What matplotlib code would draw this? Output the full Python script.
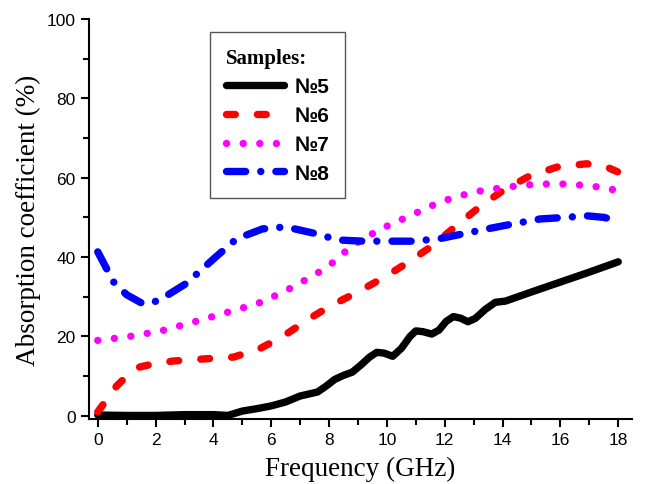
import matplotlib.pyplot as plt
from matplotlib.ticker import MultipleLocator

# --- data ---
freq5 = [0, 1, 2, 3, 4, 4.5, 5, 5.5, 6, 6.5, 7, 7.6, 7.9, 8.2, 8.5, 8.8, 9.1, 9.4,
         9.65, 9.9, 10.2, 10.5, 10.8, 11.0, 11.25, 11.55, 11.8, 12.05, 12.3, 12.55,
         12.8, 13.05, 13.4, 13.75, 14.1, 15, 16, 17, 18]
abs5 = [0.2, 0.1, 0.1, 0.3, 0.3, 0.1, 1.2, 1.8, 2.5, 3.5, 5.0, 6.0, 7.5, 9.2, 10.2,
        11.0, 12.8, 14.8, 16.0, 15.8, 15.0, 17.0, 20.0, 21.4, 21.2, 20.6, 21.6, 23.8,
        25.0, 24.6, 23.7, 24.5, 26.8, 28.6, 28.9, 31.2, 33.7, 36.2, 38.8]

freq6 = [0, 0.3, 0.65, 1.0, 1.45, 2.0, 2.6, 3.2, 3.8, 4.7, 5.6, 6.4, 7.3, 8.0, 9.07,
         10.0, 10.8, 11.6, 12.4, 13.2, 14.0, 14.95, 15.9, 16.9, 17.5, 18]
abs6 = [1.0, 4.0, 7.5, 10.0, 12.3, 13.2, 13.8, 14.1, 14.4, 14.8, 16.9, 20, 24.4, 27.5,
        31.5, 35.3, 39, 43, 47.9, 52.6, 56.7, 60.5, 62.7, 63.5, 63.0, 61.4]

freq7 = [0, 1.1, 2.25, 3.3, 4.3, 5.5, 6.4, 7.45, 8.0, 8.8, 9.76, 10.8, 11.84, 13.0,
         14.1, 15.2, 16.3, 17.4, 18]
abs7 = [19, 20, 21.5, 23.6, 25.7, 28.2, 31.1, 35.3, 37.8, 42.9, 47, 50.4, 53.9, 56.4,
        57.6, 58.4, 58.4, 57.6, 56.7]

freq8 = [0, 0.55, 1.0, 1.57, 2.1, 3.05, 4.0, 4.8, 5.7, 6.5, 7.6, 8.3, 9.2, 10.0, 10.9,
         11.8, 12.6, 13.4, 14.4, 15.3, 16.2, 16.9, 17.5, 18]
abs8 = [41.3, 33.7, 30.5, 28.2, 29, 33.3, 39.5, 44.6, 47.1, 47.6, 45.8, 44.3, 44, 44, 44,
        44.6, 45.8, 47, 48.4, 49.6, 50, 50.4, 50, 49.1]

labels = ["№5", "№6", "№7", "№8"]

fig = plt.figure(figsize=(6.53, 4.85), dpi=100)
ax = fig.add_axes([0.136, 0.134, 0.832, 0.825])

lw = 5.3
ax.plot(freq5, abs5, color="black", lw=lw, solid_capstyle="round",
        solid_joinstyle="round", label=labels[0])
ax.plot(freq6, abs6, color="#ff0000", lw=lw, linestyle=(0, (1.2, 3.0)),
        dash_capstyle="round", label=labels[1])
ax.plot(freq7, abs7, color="#ff00ff", lw=lw, linestyle=(0, (0.01, 2.25)),
        dash_capstyle="round", label=labels[2])
ax.plot(freq8, abs8, color="#0000ff", lw=lw, linestyle=(0, (2.6, 2.05, 0.01, 2.05)),
        dash_capstyle="round", label=labels[3])

ax.set_xlim(-0.31, 18.48)
ax.set_ylim(-0.8, 100)
ax.xaxis.set_major_locator(MultipleLocator(2))
ax.xaxis.set_minor_locator(MultipleLocator(1))
ax.yaxis.set_major_locator(MultipleLocator(20))
ax.yaxis.set_minor_locator(MultipleLocator(10))
ax.spines["top"].set_visible(False)
ax.spines["right"].set_visible(False)
for s in ("left", "bottom"):
    ax.spines[s].set_linewidth(1.5)
ax.tick_params(which="major", direction="out", length=6, width=1.5,
               labelsize=12.5, colors="black")
ax.tick_params(which="minor", direction="out", length=4, width=1.5)
for t in ax.get_xticklabels() + ax.get_yticklabels():
    t.set_family("Liberation Sans")

ax.set_xlabel("Frequency (GHz)", family="Liberation Serif", fontsize=19.5, labelpad=6)
ax.set_ylabel("Absorption coefficient (%)", family="Liberation Serif", fontsize=19.5,
              labelpad=4)

leg = ax.legend(loc="upper left", bbox_to_anchor=(0.223, 0.9675), borderaxespad=0,
                fancybox=False, framealpha=1, edgecolor="#555555",
                prop={"family": "Liberation Sans", "weight": "bold", "size": 15},
                title="Samples:", handlelength=2.8, handletextpad=0.5,
                labelspacing=0.47, borderpad=0.75)
leg.get_title().set_fontfamily("Liberation Serif")
leg.get_title().set_fontweight("bold")
leg.get_title().set_fontsize(15)
leg._legend_box.align = "left"

fig.savefig("out.png", dpi=100)
